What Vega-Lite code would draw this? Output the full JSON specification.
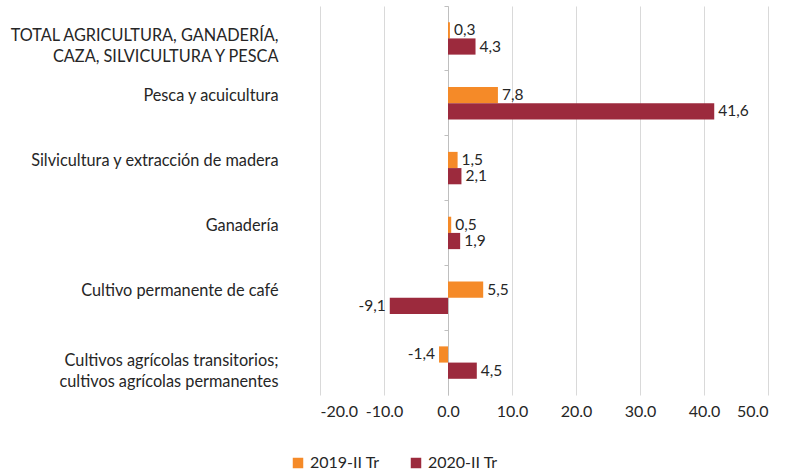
{
  "$schema": "https://vega.github.io/schema/vega-lite/v6.json",
  "width": 448,
  "height": 389,
  "autosize": {"type": "none"},
  "padding": {"left": 320, "top": 6, "right": 24, "bottom": 77},
  "config": {"view": {"stroke": null}, "font": "Lato", "text": {"font": "Lato"}},
  "data": {
    "values": [
      {"cat": "TOTAL AGRICULTURA, GANADERÍA,\nCAZA, SILVICULTURA Y PESCA", "serie": "2019-II Tr", "value": 0.3},
      {"cat": "TOTAL AGRICULTURA, GANADERÍA,\nCAZA, SILVICULTURA Y PESCA", "serie": "2020-II Tr", "value": 4.3},
      {"cat": "Pesca y acuicultura", "serie": "2019-II Tr", "value": 7.8},
      {"cat": "Pesca y acuicultura", "serie": "2020-II Tr", "value": 41.6},
      {"cat": "Silvicultura y extracción de madera", "serie": "2019-II Tr", "value": 1.5},
      {"cat": "Silvicultura y extracción de madera", "serie": "2020-II Tr", "value": 2.1},
      {"cat": "Ganadería", "serie": "2019-II Tr", "value": 0.5},
      {"cat": "Ganadería", "serie": "2020-II Tr", "value": 1.9},
      {"cat": "Cultivo permanente de café", "serie": "2019-II Tr", "value": 5.5},
      {"cat": "Cultivo permanente de café", "serie": "2020-II Tr", "value": -9.1},
      {"cat": "Cultivos agrícolas transitorios;\ncultivos agrícolas permanentes", "serie": "2019-II Tr", "value": -1.4},
      {"cat": "Cultivos agrícolas transitorios;\ncultivos agrícolas permanentes", "serie": "2020-II Tr", "value": 4.5}
    ]
  },
  "transform": [
    {"calculate": "replace(replace(format(datum.value, '.1f'), '.', ','), '\u2212', '-')", "as": "lbl"}
  ],
  "encoding": {
    "y": {
      "field": "cat",
      "type": "nominal",
      "sort": [
        "TOTAL AGRICULTURA, GANADERÍA,\nCAZA, SILVICULTURA Y PESCA",
        "Pesca y acuicultura",
        "Silvicultura y extracción de madera",
        "Ganadería",
        "Cultivo permanente de café",
        "Cultivos agrícolas transitorios;\ncultivos agrícolas permanentes"
      ],
      "scale": {"paddingInner": 0, "paddingOuter": 0},
      "axis": {
        "title": null,
        "offset": -128,
        "bandPosition": 0,
        "labelExpr": "split(datum.label, '\\n')",
        "labelOffset": {"condition": {"test": "indexof(datum.value, '\\n') >= 0", "value": -2}, "value": -7},
        "labelLineHeight": 21,
        "labelPadding": 166,
        "labelFontSize": 16.3,
        "labelColor": "#262626",
        "labelFont": "Lato",
        "labelLimit": 400,
        "domainColor": "#bfbfbf",
        "ticks": true,
        "tickColor": "#bfbfbf",
        "tickSize": 4,
        "grid": false
      }
    },
    "yOffset": {"field": "serie", "type": "nominal", "scale": {"paddingInner": 0, "paddingOuter": 1}}
  },
  "layer": [
    {
      "mark": {"type": "bar"},
      "encoding": {
        "x": {
          "field": "value",
          "type": "quantitative",
          "scale": {"domain": [-20, 50], "nice": false},
          "axis": {
            "title": null,
            "values": [-20, -10, 0, 10, 20, 30, 40, 50],
            "labelExpr": "replace(format(datum.value, '.1f'), '\u2212', '-')",
            "grid": true,
            "gridColor": "#d9d9d9",
            "domain": false,
            "ticks": false,
            "labelPadding": 8,
            "labelFontSize": 16,
            "labelColor": "#262626",
            "labelFont": "Lato"
          }
        },
        "color": {
          "field": "serie",
          "type": "nominal",
          "scale": {"domain": ["2019-II Tr", "2020-II Tr"], "range": ["#F58A28", "#9C2A3D"]},
          "legend": {
            "title": null,
            "orient": "none",
            "direction": "horizontal",
            "legendX": -30,
            "legendY": 449,
            "symbolType": "square",
            "symbolSize": 110,
            "symbolStrokeWidth": 0,
            "labelFontSize": 16,
            "labelColor": "#262626",
            "labelFont": "Lato",
            "columnPadding": 28
          }
        }
      }
    },
    {
      "transform": [{"filter": "datum.value >= 0"}],
      "mark": {"type": "text", "align": "left", "baseline": "middle", "dx": 4, "fontSize": 15.5, "color": "#262626"},
      "encoding": {
        "x": {"field": "value", "type": "quantitative"},
        "text": {"field": "lbl"}
      }
    },
    {
      "transform": [{"filter": "datum.value < 0"}],
      "mark": {"type": "text", "align": "right", "baseline": "middle", "dx": -4, "fontSize": 15.5, "color": "#262626"},
      "encoding": {
        "x": {"field": "value", "type": "quantitative"},
        "text": {"field": "lbl"}
      }
    }
  ]
}
